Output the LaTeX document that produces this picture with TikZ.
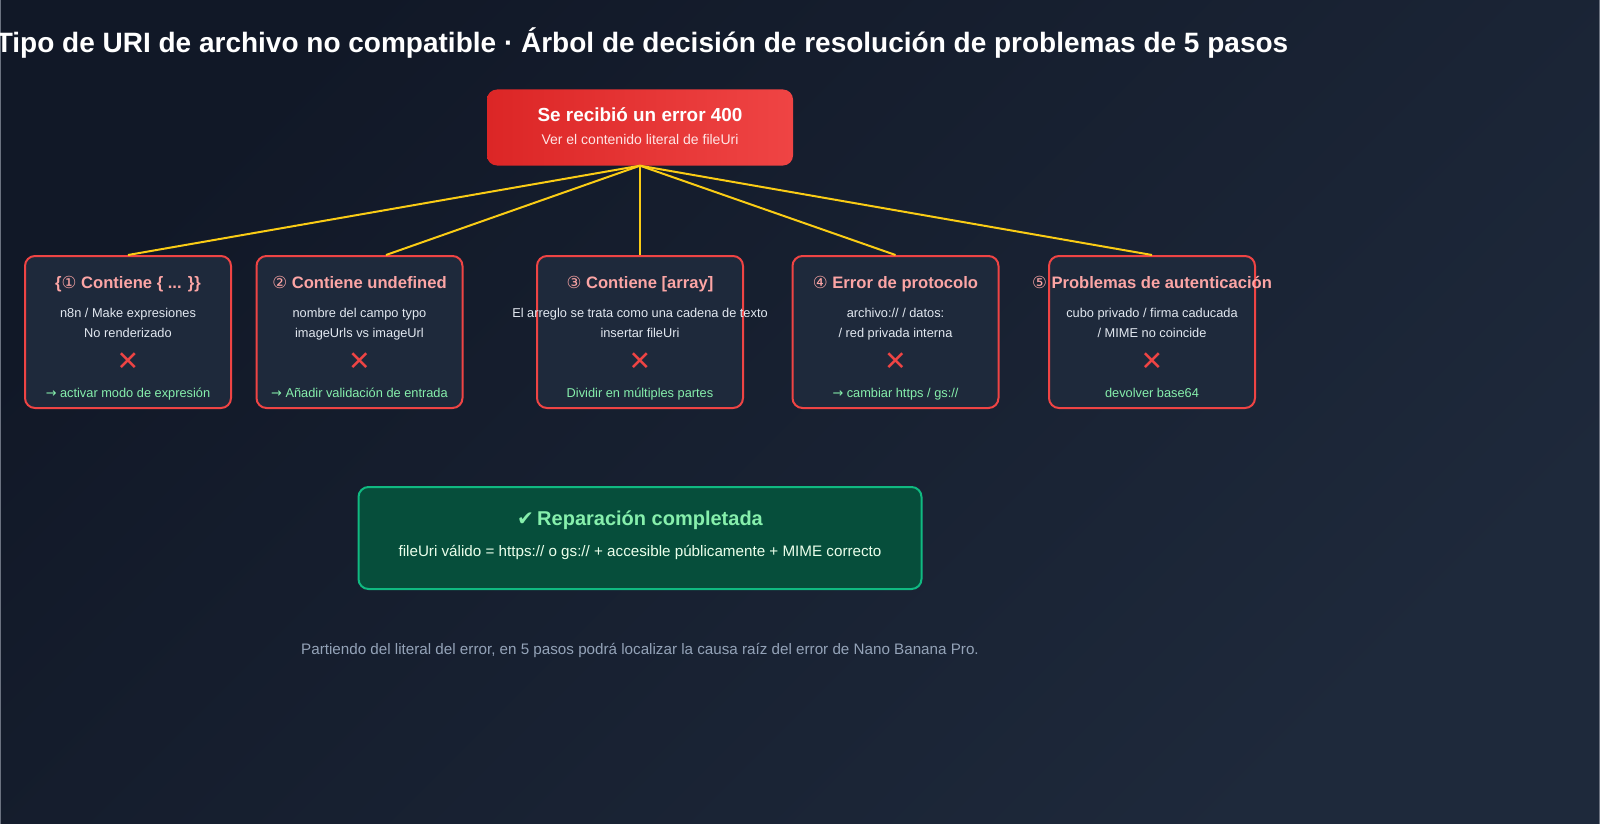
\documentclass[tikz,border=0pt]{standalone}
\usepackage{fontspec}
\setmainfont{Liberation Sans}
\newfontfamily\symfont{DejaVu Sans}
\usepackage{tikz}
\usetikzlibrary{positioning}

\definecolor{bgtop}{HTML}{111827}
\definecolor{bgbot}{HTML}{1E293B}
\definecolor{errred}{HTML}{DC2626}
\definecolor{errredlight}{HTML}{EF4444}
\definecolor{cardred}{HTML}{EF4444}
\definecolor{cardbg}{HTML}{1E293B}
\definecolor{headpink}{HTML}{FCA5A5}
\definecolor{bodygray}{HTML}{E2E8F0}
\definecolor{fixgreen}{HTML}{86EFAC}
\definecolor{wireyellow}{HTML}{FACC15}
\definecolor{okfill}{HTML}{064E3B}
\definecolor{okborder}{HTML}{10B981}
\definecolor{notegray}{HTML}{94A3B8}
\definecolor{edgegray}{HTML}{6B7280}

\begin{document}
\begin{tikzpicture}[x=1pt, y=-1pt,
    card/.style={shape=rectangle, rounded corners=10pt, draw=cardred, line width=2pt, fill=cardbg, minimum width=206pt, minimum height=152pt},
    head/.style={anchor=base, inner sep=0pt, text=headpink, font=\bfseries\fontsize{16.6}{19}\selectfont},
    body/.style={anchor=base, inner sep=0pt, text=bodygray, font=\fontsize{12.8}{15}\selectfont},
    cross/.style={inner sep=0pt, text=cardred, font=\symfont\fontsize{27}{27}\selectfont},
    fix/.style={anchor=base, inner sep=0pt, text=fixgreen, font=\fontsize{12.8}{15}\selectfont},
    wire/.style={draw=wireyellow, line width=2pt}]

    % background
    \shade[top color=bgtop, bottom color=bgbot, shading angle=45] (0,0) rectangle (1600,824);
    \useasboundingbox (0,0) rectangle (1600,824);
    \draw[edgegray, line width=1pt] (0.5,0) -- (0.5,824);
    \draw[edgegray, line width=1pt] (1599.5,0) -- (1599.5,824);

    \node[anchor=base, inner sep=0pt, text=white, font=\bfseries\fontsize{28}{32}\selectfont] (title) at (642,53) {Tipo de URI de archivo no compatible · Árbol de decisión de resolución de problemas de 5 pasos};

    % root
    \node[shape=rectangle, rounded corners=10pt, left color=errred, right color=errredlight, minimum width=306pt, minimum height=76pt] (top) at (640,127.5) {};
    \node[anchor=base, inner sep=0pt, text=white, font=\bfseries\fontsize{18.9}{22}\selectfont] (toph) at (640,122) {Se recibió un error 400};
    \node[anchor=base, inner sep=0pt, text=red!10, font=\fontsize{14}{16}\selectfont] (topb) at (640,145) {Ver el contenido literal de fileUri};

    % five checks
    \node[card] (c1) at (128,332) {};
    \node[card] (c2) at (359.5,332) {};
    \node[card] (c3) at (640,332) {};
    \node[card] (c4) at (895.5,332) {};
    \node[card] (c5) at (1152,332) {};

    \path[wire] (top.south) edge (c1.north);
    \path[wire] (top.south) edge ([xshift=26.5pt]c2.north);
    \path[wire] (top.south) edge (c3.north);
    \path[wire] (top.south) edge (c4.north);
    \path[wire] (top.south) edge (c5.north);

    \node[head] (h1) at (128,288) {\{{\symfont\mdseries ①} Contiene \{ ... \}\}};
    \node[body] (a1) at (128,317) {n8n / Make expresiones};
    \node[body] (b1) at (128,337) {No renderizado};
    \node[cross] (x1) at (128,362) {✕};
    \node[fix] (f1) at (128,397) {{\symfont →} activar modo de expresión};

    \node[head] (h2) at (359.5,288) {{\symfont\mdseries ②} Contiene undefined};
    \node[body] (a2) at (359.5,317) {nombre del campo typo};
    \node[body] (b2) at (359.5,337) {imageUrls vs imageUrl};
    \node[cross] (x2) at (359.5,362) {✕};
    \node[fix] (f2) at (359.5,397) {{\symfont →} Añadir validación de entrada};

    \node[head] (h3) at (640,288) {{\symfont\mdseries ③} Contiene [array]};
    \node[body] (a3) at (640,317) {El arreglo se trata como una cadena de texto};
    \node[body] (b3) at (640,337) {insertar fileUri};
    \node[cross] (x3) at (640,362) {✕};
    \node[fix] (f3) at (640,397) {Dividir en múltiples partes};

    \node[head] (h4) at (895.5,288) {{\symfont\mdseries ④} Error de protocolo};
    \node[body] (a4) at (895.5,317) {archivo:// / datos:};
    \node[body] (b4) at (895.5,337) {/ red privada interna};
    \node[cross] (x4) at (895.5,362) {✕};
    \node[fix] (f4) at (895.5,397) {{\symfont →} cambiar https / gs://};

    \node[head] (h5) at (1152,288) {{\symfont\mdseries ⑤} Problemas de autenticación};
    \node[body] (a5) at (1152,317) {cubo privado / firma caducada};
    \node[body] (b5) at (1152,337) {/ MIME no coincide};
    \node[cross] (x5) at (1152,362) {✕};
    \node[fix] (f5) at (1152,397) {devolver base64};

    % result
    \node[shape=rectangle, rounded corners=10pt, draw=okborder, line width=2pt, fill=okfill, minimum width=563pt, minimum height=102pt] (ok) at (640,538) {};
    \node[anchor=base, inner sep=0pt, text=fixgreen, font=\bfseries\fontsize{20}{24}\selectfont] (okh) at (640,525.5) {{\symfont\mdseries ✔}\,Reparación completada};
    \node[anchor=base, inner sep=0pt, text=green!8, font=\fontsize{15.2}{18}\selectfont] (okb) at (640,556) {fileUri válido = https:// o gs:// + accesible públicamente + MIME correcto};

    \node[anchor=base, inner sep=0pt, text=notegray, font=\fontsize{15.2}{18}\selectfont] (note) at (640,654) {Partiendo del literal del error, en 5 pasos podrá localizar la causa raíz del error de Nano Banana Pro.};
\end{tikzpicture}
\end{document}
